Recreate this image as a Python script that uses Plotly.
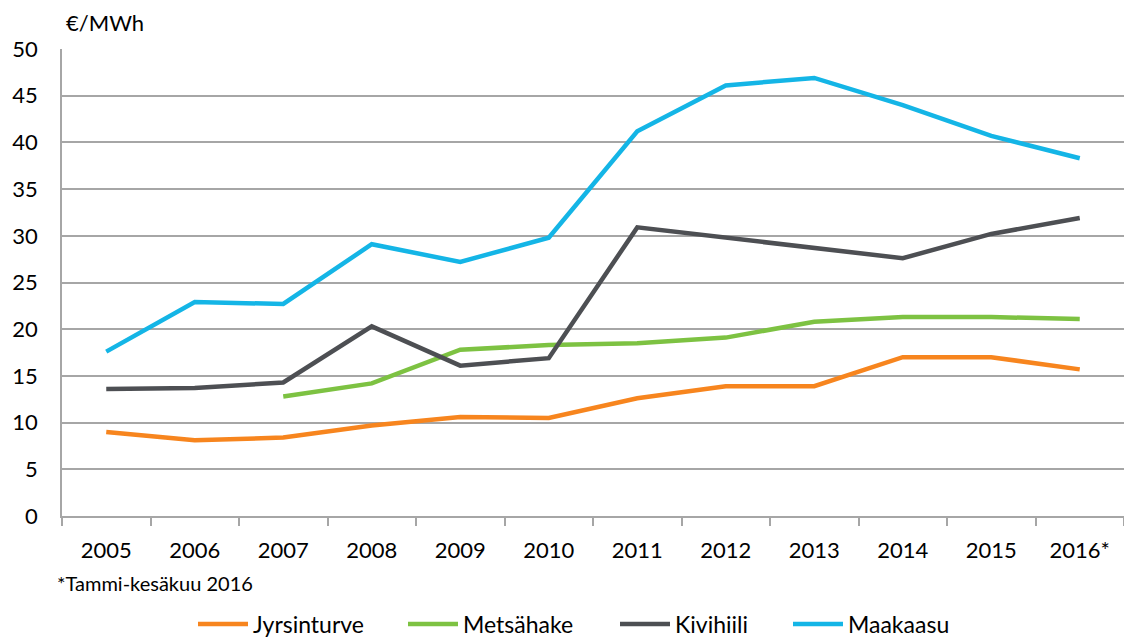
import plotly.graph_objects as go

years = ["2005", "2006", "2007", "2008", "2009", "2010", "2011", "2012", "2013", "2014", "2015", "2016*"]
jyrsinturve = [9.0, 8.1, 8.4, 9.7, 10.6, 10.5, 12.6, 13.9, 13.9, 17.0, 17.0, 15.7]
metsahake = [None, None, 12.8, 14.2, 17.8, 18.3, 18.5, 19.1, 20.8, 21.3, 21.3, 21.1]
kivihiili = [13.6, 13.7, 14.3, 20.3, 16.1, 16.9, 30.9, 29.8, 28.7, 27.6, 30.2, 31.9]
maakaasu = [17.6, 22.9, 22.7, 29.1, 27.2, 29.8, 41.2, 46.1, 46.9, 44.0, 40.7, 38.3]

series = [
    ("Jyrsinturve", jyrsinturve, "#F7851E"),
    ("Metsähake", metsahake, "#7DC242"),
    ("Kivihiili", kivihiili, "#4D4F53"),
    ("Maakaasu", maakaasu, "#14B5E6"),
]
legend_x = [193, 403, 615, 788]

FONT = "Lato, 'Open Sans', sans-serif"
W, H = 1124, 639
L, R, T, B = 62, 0, 49, 123
PW, PH = W - L - R, H - T - B


def px(x):
    return (x - L) / PW


def py(y):
    return (H - B - y) / PH


fig = go.Figure()
legends = {}
for i, (name, vals, col) in enumerate(series):
    lname = "legend" if i == 0 else f"legend{i + 1}"
    fig.add_trace(go.Scatter(x=years, y=vals, name=name, mode="lines", legend=lname,
                             line=dict(color=col, width=4.5), connectgaps=False))
    legends[lname] = dict(orientation="h", xref="container", yref="container",
                          x=legend_x[i] / W, xanchor="left", y=1 - 624 / H, yanchor="middle",
                          font=dict(size=23), itemwidth=50, bgcolor="rgba(0,0,0,0)")

fig.update_layout(
    width=W, height=H,
    margin=dict(l=L, r=R, t=T, b=B, autoexpand=False),
    plot_bgcolor="white", paper_bgcolor="white",
    font=dict(family=FONT, size=22, color="#000000"),
    showlegend=True,
    xaxis=dict(type="category", tickson="boundaries", ticks="outside", ticklen=8,
               tickcolor="#A6A6A6", tickwidth=1.5, showgrid=False, automargin=False,
               showline=True, linecolor="#A6A6A6", linewidth=1.5,
               tickfont=dict(size=22), range=[-0.5, 11.5], ticklabelstandoff=14),
    yaxis=dict(range=[0, 50], dtick=5, showgrid=True, gridcolor="#A6A6A6", gridwidth=1.5,
               showline=True, linecolor="#A6A6A6", linewidth=1.5, ticks="", automargin=False,
               tickfont=dict(size=22), zeroline=False, ticklabelstandoff=18),
    **legends,
)
fig.add_annotation(text="€/MWh", xref="paper", yref="paper", x=px(64), y=py(22),
                   xanchor="left", yanchor="middle", showarrow=False, font=dict(size=22))
fig.add_annotation(text="*Tammi-kesäkuu 2016", xref="paper", yref="paper",
                   x=px(55), y=py(583),
                   xanchor="left", yanchor="middle", showarrow=False, font=dict(size=20))

fig.write_html("out.html", config={"displayModeBar": False},
               post_script="document.body.style.margin='0';document.body.style.overflow='hidden';")
